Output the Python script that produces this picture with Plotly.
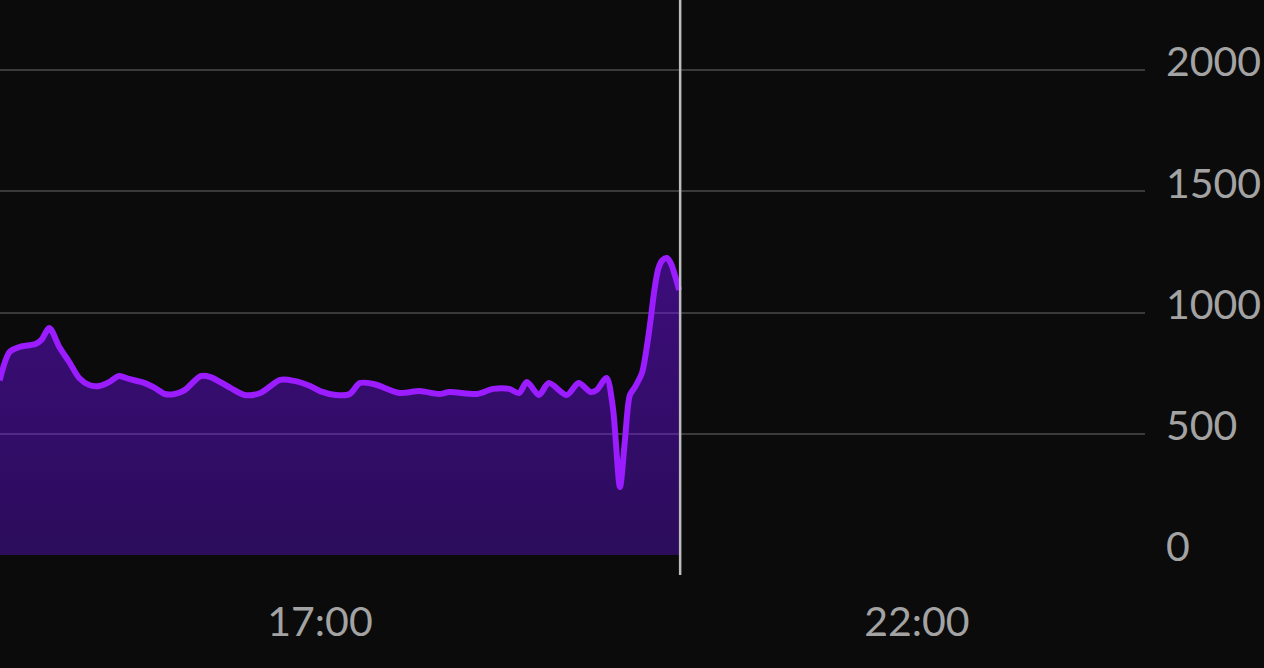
import plotly.graph_objects as go

day = "2024-01-01 "
times = ["14:19:00", "14:24:00", "14:29:00", "14:37:00", "14:40:00", "14:44:00", "14:49:00",
         "14:54:00", "14:59:00", "15:04:00", "15:09:00", "15:14:00", "15:19:00", "15:24:00",
         "15:32:00", "15:37:00", "15:42:00", "15:47:00", "15:52:00", "16:00:00", "16:05:00",
         "16:15:00", "16:22:00", "16:30:00", "16:40:00", "16:47:00", "16:55:00", "17:00:00",
         "17:08:00", "17:15:00", "17:20:00", "17:27:00", "17:40:00", "17:50:00", "18:00:00",
         "18:05:00", "18:19:00", "18:27:00", "18:35:00", "18:40:00", "18:44:00", "18:50:00",
         "18:55:00", "19:04:00", "19:10:00", "19:16:00", "19:19:00", "19:24:00", "19:27:10",
         "19:30:45", "19:33:15", "19:35:45", "19:38:20", "19:41:50", "19:44:00", "19:46:00",
         "19:48:00", "19:50:00", "19:52:00", "19:54:20", "19:56:30", "19:58:30", "20:00:30"]
values = [720, 837, 858, 870, 887, 936, 858,
          796, 730, 701, 697, 713, 738, 726,
          709, 689, 664, 664, 680, 738, 734,
          689, 660, 668, 722, 718, 697, 676,
          660, 664, 709, 705, 668, 676, 664,
          672, 664, 685, 685, 668, 713, 660,
          709, 660, 709, 672, 680, 730, 610,
          280, 474, 660, 693, 751, 845, 960,
          1090, 1180, 1215, 1225, 1200, 1150, 1093]
x_ticks = ["17:00", "22:00"]
y_ticks = [0, 500, 1000, 1500, 2000]
x_range = ["14:19:12", "23:54:36"]
now_marker = "20:01:00"

xs = [day + t for t in times]

fig = go.Figure()
fig.add_trace(go.Scatter(
    x=xs, y=values, mode="lines",
    line=dict(color="#9a1cff", width=6, shape="spline", smoothing=0.8),
    fill="tozeroy",
    fillgradient=dict(type="vertical",
                      colorscale=[[0, "rgba(110,15,255,0.33)"], [1, "rgba(120,15,255,0.46)"]]),
    hoverinfo="skip", showlegend=False,
))

fig.add_shape(type="line", xref="x", yref="paper",
              x0=day + now_marker, x1=day + now_marker, y0=-0.036, y1=1,
              line=dict(color="#bdbdbd", width=2.5), layer="above")

font = dict(family="Lato, sans-serif", size=41, color="#a3a3a3")
fig.update_layout(
    width=1264, height=668,
    paper_bgcolor="#0b0b0b", plot_bgcolor="#0b0b0b",
    margin=dict(l=0, r=119, t=0, b=113),
    xaxis=dict(range=[day + x_range[0], day + x_range[1]],
               tickvals=[day + t for t in x_ticks], ticktext=x_ticks,
               showgrid=False, zeroline=False, showline=False,
               ticks="", tickfont=font, ticklabelstandoff=39),
    yaxis=dict(range=[0, 2289], side="right", tickvals=y_ticks,
               showgrid=True, gridcolor="#3a3a3a", gridwidth=2,
               zeroline=False, showline=False, ticks="",
               tickfont=font, ticklabelstandoff=20, ticklabelshift=-8),
)
fig.write_html("out.html", config={"displayModeBar": False},
               post_script="document.body.style.margin='0';document.body.style.background='#0b0b0b';")
